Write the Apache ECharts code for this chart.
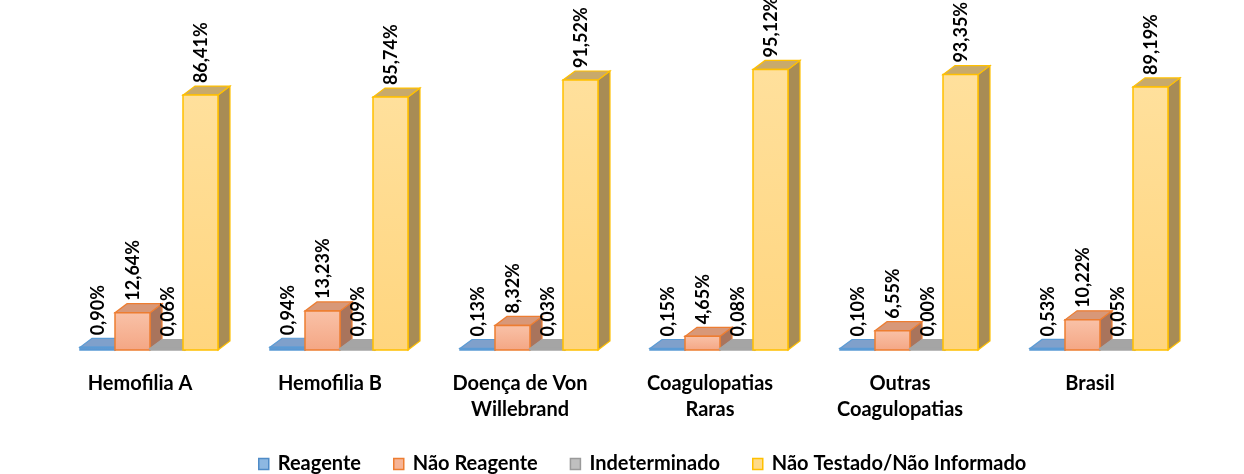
<!DOCTYPE html>
<html>
<head>
<meta charset="utf-8">
<script src="https://cdn.jsdelivr.net/npm/echarts@6/dist/echarts.min.js"></script>
<style>
  html, body { margin: 0; padding: 0; background: #fff; }
  #app { width: 1244px; height: 474px; }
</style>
</head>
<body>
<div id="app"></div>
<script>
const categories = ['Hemofilia A', 'Hemofilia B', 'Doença de Von\nWillebrand', 'Coagulopatias\nRaras', 'Outras\nCoagulopatias', 'Brasil']
const reagente = [0.90, 0.94, 0.13, 0.15, 0.10, 0.53]
const naoReagente = [12.64, 13.23, 8.32, 4.65, 6.55, 10.22]
const indeterminado = [0.06, 0.09, 0.03, 0.08, 0.00, 0.05]
const naoTestado = [86.41, 85.74, 91.52, 95.12, 93.35, 89.19]

const FONT = 'Lato, "Noto Sans", sans-serif'
const BAR_W = 35
const DX = 12
const DY = 9

const fmt = v => v.toFixed(2).replace('.', ',') + '%'

// draws one fake-3D bar: front face, top face, right side + rotated label
function bar3d (offset, c) {
  return function (params, api) {
    const idx = api.value(0)
    const v = api.value(1)
    const base = api.coord([idx, 0])
    const top = api.coord([idx, v])
    const x0 = base[0] + offset
    const x1 = x0 + BAR_W
    const yb = base[1]
    const yt = Math.min(top[1], yb - 1.5)
    return {
      type: 'group',
      children: [
        {
          type: 'polygon',
          shape: { points: [[x1, yt], [x1 + DX, yt - DY], [x1 + DX, yb - DY], [x1, yb]] },
          style: { fill: c.side, stroke: c.stroke, lineWidth: 1.2 }
        },
        {
          type: 'polygon',
          shape: { points: [[x0, yt], [x1, yt], [x1 + DX, yt - DY], [x0 + DX, yt - DY]] },
          style: { fill: c.top, stroke: c.stroke, lineWidth: 1.2 }
        },
        {
          type: 'rect',
          shape: { x: x0, y: yt, width: BAR_W, height: yb - yt },
          style: {
            fill: new echarts.graphic.LinearGradient(0, 0, 0, 1, [
              { offset: 0, color: c.front[0] },
              { offset: 1, color: c.front[1] }
            ]),
            stroke: c.stroke,
            lineWidth: 1.5
          }
        },
        {
          type: 'text',
          x: (x0 + x1) / 2 + 1,
          y: yt - DY - 3,
          rotation: Math.PI / 2,
          style: {
            text: fmt(v),
            font: 'bold 18px ' + FONT,
            fill: '#000',
            align: 'left',
            verticalAlign: 'middle'
          }
        }
      ]
    }
  }
}

const styles = [
  { name: 'Reagente', data: reagente, offset: -60,
    c: { front: ['#6FA6DA', '#4F8BC7'], top: '#7FA0CB', side: '#4A76A8', stroke: '#5B9BD5' },
    legend: { color: '#8DB8E2', borderColor: '#4F8BC7' } },
  { name: 'Não Reagente', data: naoReagente, offset: -25,
    c: { front: ['#F9C2A8', '#F4A684'], top: '#D89878', side: '#A9745C', stroke: '#ED7D31' },
    legend: { color: '#F6B496', borderColor: '#ED7D31' } },
  { name: 'Indeterminado', data: indeterminado, offset: 10,
    c: { front: ['#BDBDBD', '#A8A8A8'], top: '#A5A5A5', side: '#8A8A8A', stroke: '#A5A5A5' },
    legend: { color: '#BFBFBF', borderColor: '#9A9A9A' } },
  { name: 'Não Testado/Não Informado', data: naoTestado, offset: 43,
    c: { front: ['#FFE09C', '#FFD57E'], top: '#C8AA6B', side: '#A88C55', stroke: '#FFC000' },
    legend: { color: '#FFDB88', borderColor: '#FFC000' } }
]

const chart = echarts.init(document.getElementById('app'))

chart.setOption({
  animation: false,
  grid: { left: 45, right: 59, top: 55, bottom: 124 },
  xAxis: {
    type: 'category',
    data: categories,
    axisLine: { show: false },
    axisTick: { show: false },
    axisLabel: {
      margin: 21,
      color: '#000',
      fontFamily: FONT,
      fontWeight: 'bold',
      fontSize: 20,
      lineHeight: 26,
      interval: 0
    }
  },
  yAxis: {
    type: 'value',
    min: 0,
    max: 100,
    show: false
  },
  legend: {
    top: 449,
    left: 253,
    itemWidth: 10,
    itemHeight: 11,
    itemGap: 32,
    icon: 'rect',
    textStyle: { color: '#000', fontFamily: FONT, fontWeight: 'bold', fontSize: 20, padding: [0, 0, 0, 4] },
    data: styles.map(s => ({ name: s.name, itemStyle: { color: s.legend.color, borderColor: s.legend.borderColor, borderWidth: 1.5 } }))
  },
  series: styles.map((s, i) => ({
    type: 'custom',
    name: s.name,
    z: 2 + i,
    itemStyle: { color: s.legend.color },
    renderItem: bar3d(s.offset, s.c),
    data: s.data.map((v, k) => [k, v])
  }))
})
</script>
</body>
</html>
